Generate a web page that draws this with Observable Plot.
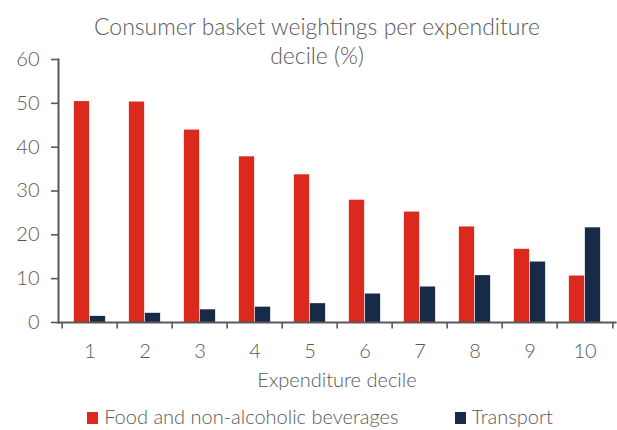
<!DOCTYPE html>
<html>
<head>
<meta charset="utf-8">
<script src="https://cdn.jsdelivr.net/npm/d3@7"></script>
<script src="https://cdn.jsdelivr.net/npm/@observablehq/plot@0.6"></script>
<style>
  html, body { margin: 0; padding: 0; background: #fff; }
  #wrap { position: relative; width: 617px; height: 430px; font-family: Lato, "Open Sans", sans-serif; font-weight: 300; color: #595959; }
  #title { position: absolute; left: 0; top: 12px; width: 634px; text-align: center; font-size: 23px; line-height: 29px; color: #595959; }
  #chart { position: absolute; left: 0; top: 0; }
  #legend { position: absolute; left: 0; top: 405px; width: 640px; display: flex; justify-content: center; font-size: 20px; line-height: 22px; }
  .item { display: flex; align-items: center; margin: 0 28px; }
  .sw { width: 11px; height: 12px; margin-right: 6px; margin-top: 3px; }
</style>
</head>
<body>
<div id="wrap">
  <div id="chart"></div>
  <div id="title">Consumer basket weightings per expenditure<br>decile (%)</div>
  <div id="legend"></div>
</div>
<script>
const deciles = ["1","2","3","4","5","6","7","8","9","10"];
const seriesNames = ["Food and non-alcoholic beverages", "Transport"];
const food = [50.4, 50.3, 43.9, 37.8, 33.7, 27.9, 25.2, 21.8, 16.7, 10.6];
const transport = [1.4, 2.1, 2.9, 3.5, 4.3, 6.5, 8.1, 10.7, 13.8, 21.6];
const yTicks = [0, 10, 20, 30, 40, 50, 60];
const colors = ["#DC291E", "#172B49"];
const axisLabel = "Expenditure decile";

const W = 617, H = 395, mL = 58, mR = 2, mT = 59, mB = 73;
const bw = (W - mL - mR) / deciles.length;
const barW = 16;
const grey = "#595959";

const rows = deciles.map((d, i) => ({decile: d, food: food[i], transport: transport[i]}));

const plot = Plot.plot({
  width: W, height: H,
  marginLeft: mL, marginRight: mR, marginTop: mT, marginBottom: mB,
  style: {fontFamily: "Lato, 'Open Sans', sans-serif", fontWeight: 300, color: grey, background: "white"},
  x: {domain: deciles, padding: 0, axis: null},
  y: {domain: [0, 60], axis: null},
  marks: [
    Plot.barY(rows, {x: "decile", y: "food", fill: colors[0], insetLeft: bw / 2 - barW, insetRight: bw / 2}),
    Plot.barY(rows, {x: "decile", y: "transport", fill: colors[1], insetLeft: bw / 2, insetRight: bw / 2 - barW}),
    Plot.axisY({ticks: yTicks, tickSize: 7, tickPadding: 12, fontSize: 20, stroke: grey, strokeWidth: 1.6, fill: grey, label: null}),
    Plot.frame({anchor: "left", stroke: grey, strokeWidth: 2}),
    Plot.frame({anchor: "bottom", stroke: grey, strokeWidth: 2.2}),
    Plot.axisX({ticks: deciles, tickSize: 6.5, tickFormat: () => "", dx: -bw / 2, stroke: grey, strokeWidth: 1.6, label: null}),
    Plot.axisX({ticks: [deciles[deciles.length - 1]], tickSize: 6.5, tickFormat: () => "", dx: bw / 2, stroke: grey, strokeWidth: 1.6, label: null}),
    Plot.axisX({ticks: deciles, tickSize: 0, tickPadding: 21, fontSize: 20, fill: grey, label: null}),
    Plot.text([axisLabel], {frameAnchor: "bottom", dy: 64, fontSize: 20, fill: grey})
  ]
});
document.getElementById("chart").appendChild(plot);

const legend = document.getElementById("legend");
seriesNames.forEach((name, i) => {
  const item = document.createElement("div");
  item.className = "item";
  const sw = document.createElement("span");
  sw.className = "sw";
  sw.style.background = colors[i];
  const t = document.createElement("span");
  t.textContent = name;
  item.appendChild(sw);
  item.appendChild(t);
  legend.appendChild(item);
});
</script>
</body>
</html>
